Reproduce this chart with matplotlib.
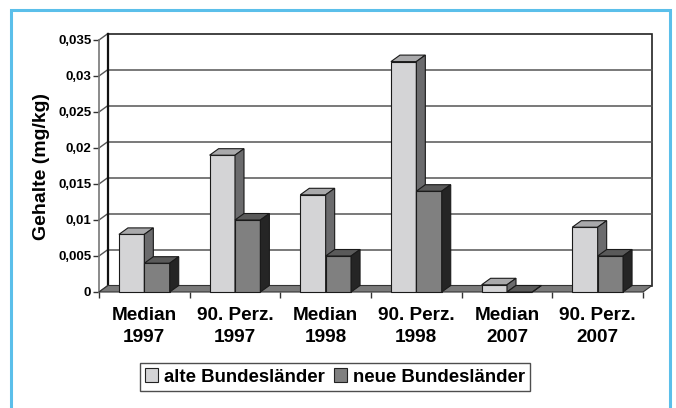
#!/usr/bin/env python3

import matplotlib

matplotlib.use("Agg")

import numpy as np
import matplotlib.pyplot as plt
from matplotlib.patches import Polygon, Rectangle, Patch


CATEGORIES = ["Median\n1997", "90. Perz.\n1997", "Median\n1998",
              "90. Perz.\n1998", "Median\n2007", "90. Perz.\n2007"]
ALTE = [0.008, 0.019, 0.0135, 0.032, 0.001, 0.009]
NEUE = [0.004, 0.010, 0.005, 0.014, 0.0, 0.005]
SERIES_NAMES = ["alte Bundesländer", "neue Bundesländer"]
Y_TICKS = [0.0, 0.005, 0.01, 0.015, 0.02, 0.025, 0.03, 0.035]
Y_TICK_LABELS = ["0", "0,005", "0,01", "0,015", "0,02", "0,025", "0,03", "0,035"]
Y_LABEL = "Gehalte (mg/kg)"

# face colours: front, top, side
LIGHT = ("#D4D4D6", "#A9A9AB", "#6B6B6D")
DARK = ("#808080", "#5A5A5A", "#252525")

W, H = 676, 408
YMAX = 0.035

plt.rcParams["font.family"] = ["Liberation Sans", "DejaVu Sans"]
plt.rcParams["font.weight"] = "bold"

fig = plt.figure(figsize=(W / 100, H / 100), dpi=100)
fig.patch.set_facecolor("white")

# front plane: x 99..643 px, y 292..40 px
ax = fig.add_axes([99 / W, (H - 292) / H, 544 / W, 252 / H])
ax.set_xlim(-0.5, 5.5)
ax.set_ylim(0, YMAX)
ax.patch.set_visible(False)
for s in ["top", "right", "bottom"]:
    ax.spines[s].set_visible(False)
ax.spines["left"].set_color("#777777")
ax.spines["left"].set_linewidth(1.2)

# depth offset of the 3D box, in data units
dx = 9 / (544 / 6)
dy = 6.5 / (252 / YMAX)

x0, x1 = -0.5, 5.5

# back wall and its grid
ax.add_patch(Rectangle((x0 + dx, dy), x1 - x0, YMAX, facecolor="white",
                       edgecolor="#222222", lw=1.2, clip_on=False, zorder=1))
for v in Y_TICKS[1:-1]:
    ax.plot([x0 + dx, x1 + dx], [v + dy, v + dy], color="#555555", lw=1.1,
            clip_on=False, zorder=2)
for v in Y_TICKS:
    ax.plot([x0, x0 + dx], [v, v + dy], color="#555555", lw=1.0,
            clip_on=False, zorder=2)
ax.plot([x0 + dx, x0 + dx], [dy, YMAX + dy], color="#111111", lw=1.6,
        clip_on=False, zorder=3)

# floor
ax.add_patch(Polygon([(x0, 0), (x1, 0), (x1 + dx, dy), (x0 + dx, dy)],
                     closed=True, facecolor="#7A7A7A", edgecolor="#333333",
                     lw=0.8, clip_on=False, zorder=3))


def bar3d(x, v, width, colors):
    left, right = x - width / 2, x + width / 2
    ax.add_patch(Rectangle((left, 0), width, v, facecolor=colors[0],
                           edgecolor="#1a1a1a", lw=0.8, clip_on=False, zorder=4))
    ax.add_patch(Polygon([(left, v), (right, v), (right + dx, v + dy),
                          (left + dx, v + dy)], closed=True,
                         facecolor=colors[1], edgecolor="#1a1a1a", lw=0.8,
                         clip_on=False, zorder=4))
    ax.add_patch(Polygon([(right, 0), (right + dx, dy), (right + dx, v + dy),
                          (right, v)], closed=True, facecolor=colors[2],
                         edgecolor="#1a1a1a", lw=0.8, clip_on=False, zorder=4))


bw = 0.28
xs = np.arange(len(CATEGORIES))
for i in xs:
    bar3d(i - bw / 2, ALTE[i], bw, LIGHT)
    bar3d(i + bw / 2, NEUE[i], bw, DARK)

# axes ticks and labels
ax.set_yticks(Y_TICKS)
ax.set_yticklabels(Y_TICK_LABELS, fontsize=9.5, fontweight="bold")
ax.tick_params(axis="y", length=4, width=1, color="#333333", pad=1.5)

ax.set_xticks(xs)
ax.set_xticklabels(CATEGORIES, fontsize=13.7, fontweight="bold",
                   linespacing=1.35)
ax.tick_params(axis="x", which="major", length=0, pad=11)
ax.set_xticks(np.arange(-0.5, 6.0, 1.0), minor=True)
ax.tick_params(axis="x", which="minor", length=4, width=1, color="#333333")

ax.set_ylabel(Y_LABEL, fontsize=14, fontweight="bold")
ax.yaxis.set_label_coords(-0.09, 0.5)

handles = [Patch(facecolor=LIGHT[0], edgecolor="#222222", lw=0.8),
           Patch(facecolor=DARK[0], edgecolor="#222222", lw=0.8)]
leg = fig.legend(handles, SERIES_NAMES, loc="center",
                 bbox_to_anchor=(335 / W, (H - 377) / H), ncol=2,
                 prop={"size": 13.4, "weight": "bold"}, frameon=True,
                 fancybox=False, handlelength=0.7, handleheight=0.7,
                 handletextpad=0.3, columnspacing=0.5, borderpad=0.3)
leg.get_frame().set_edgecolor("#222222")
leg.get_frame().set_linewidth(1.0)

# light-blue frame around the chart
fig.patches.append(Rectangle((11 / W, -0.05), 659 / W, (H - 10) / H + 0.05,
                             transform=fig.transFigure, fill=False,
                             edgecolor="#5BBFEA", lw=2.2))

fig.savefig("out.png", dpi=100)
